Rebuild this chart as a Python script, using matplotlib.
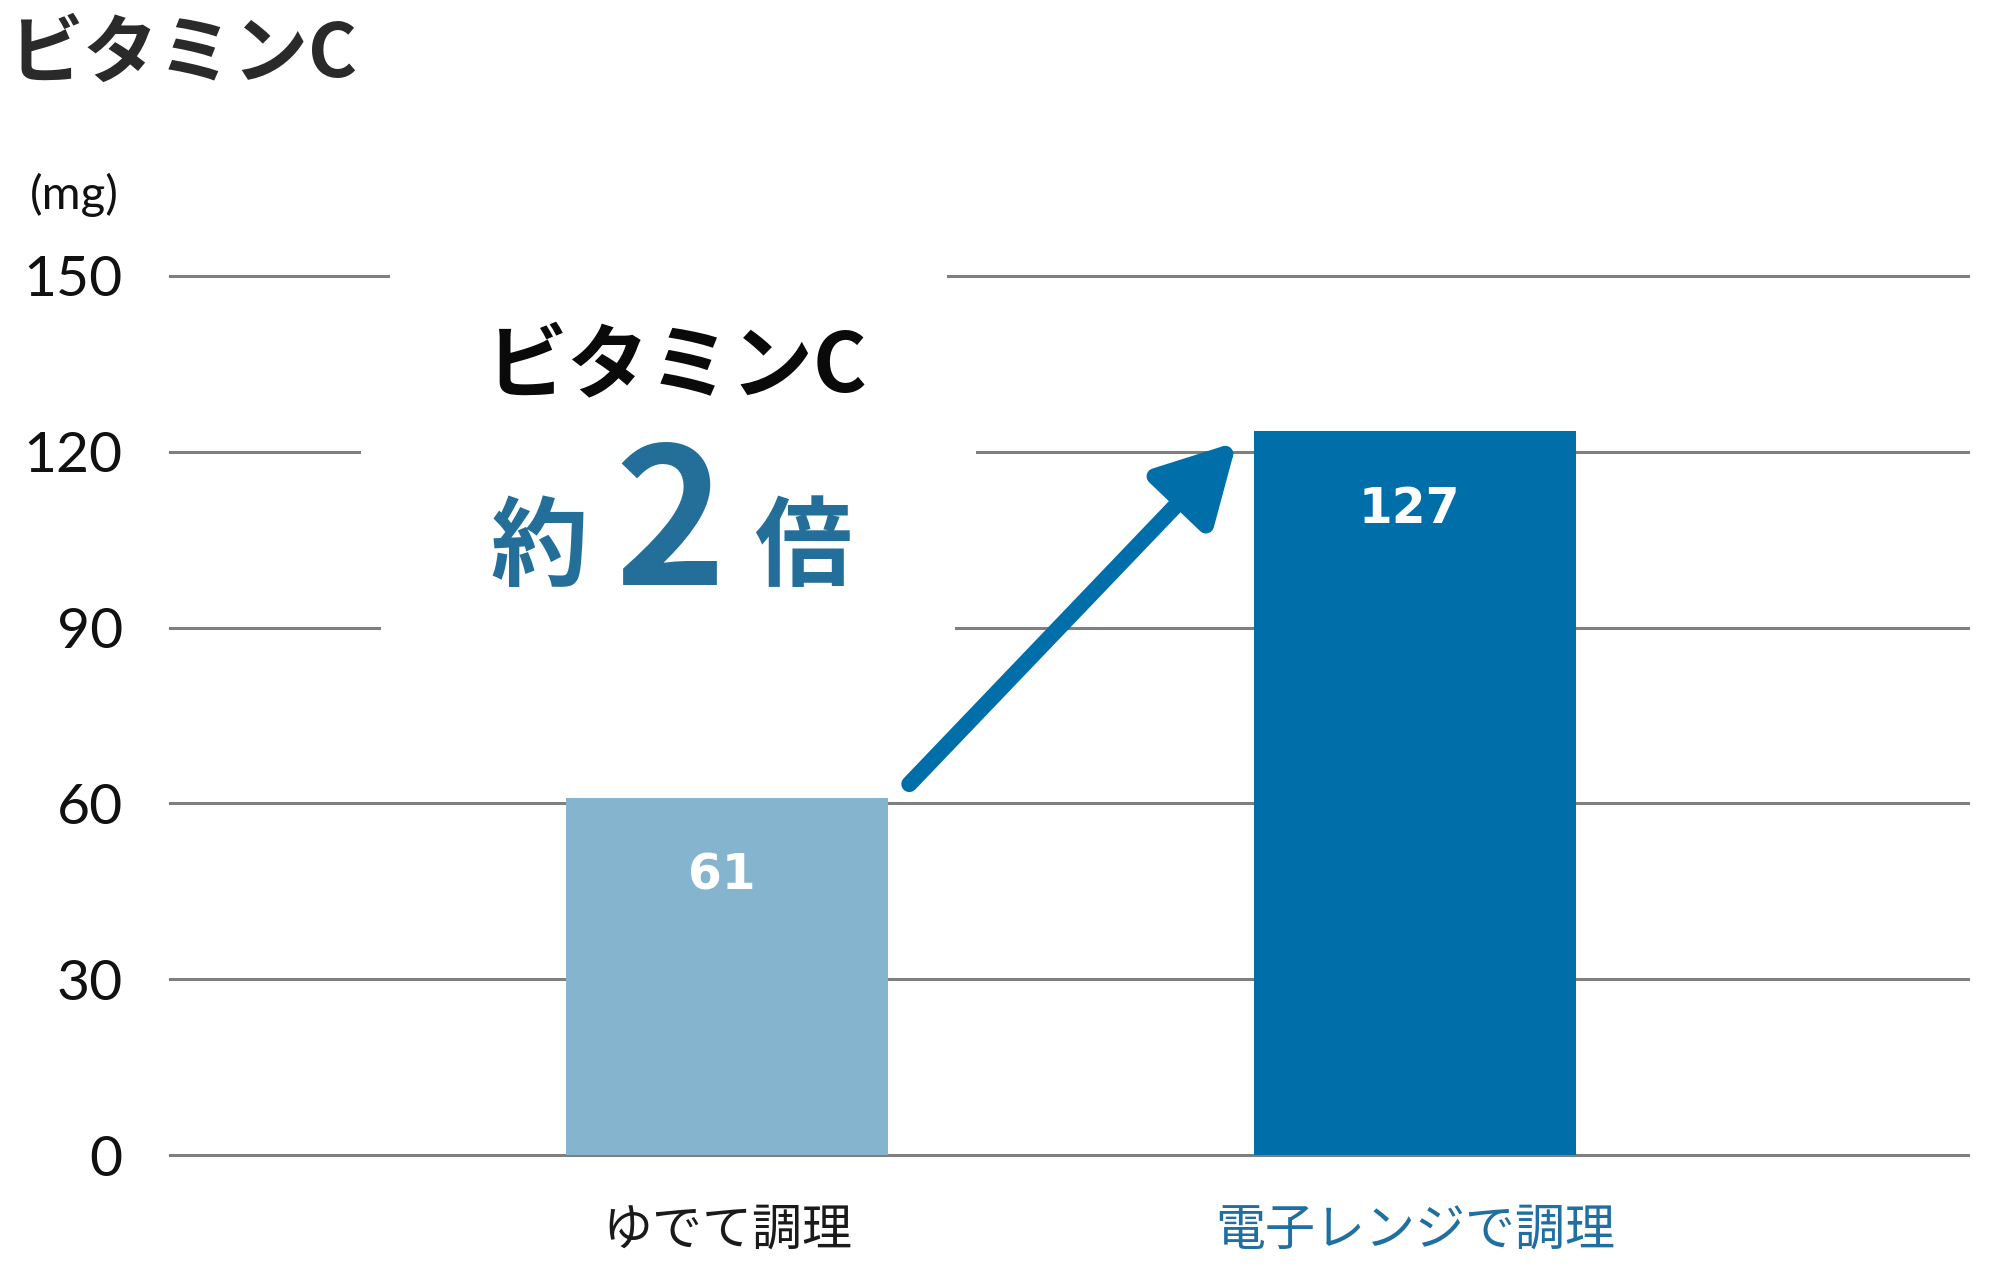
import matplotlib
matplotlib.use("Agg")
import matplotlib.pyplot as plt
import matplotlib.transforms as mtransforms
from matplotlib.patches import Rectangle

plt.rcParams['font.family'] = ['Noto Sans CJK JP', 'DejaVu Sans']

# ---- data ----
title = "ビタミンC"
unit_label = "(mg)"
categories = ["ゆでて調理", "電子レンジで調理"]
bar_heights = [61, 123.5]          # bar tops as drawn in the picture
value_labels = ["61", "127"]       # printed values
y_ticks = [0, 30, 60, 90, 120, 150]
bar_colors = ["#85b4ce", "#006ea8"]
cat_colors = ["#1a1a1a", "#1f6fa0"]
callout_top = "ビタミンC"
callout_parts = ["約", "2", "倍"]

W, H = 2000, 1277
DPI = 200
fig = plt.figure(figsize=(W / DPI, H / DPI), dpi=DPI)
ax = fig.add_axes([170 / W, 1 - 1155 / H, (1968 - 170) / W, (1155 - 276) / H])

x = list(range(len(categories)))
bw = 0.468
ax.bar(x, bar_heights, width=bw, color=bar_colors, zorder=3)
ax.set_xlim(-0.8096, 1.8038)
ax.set_ylim(0, 150)

# gridlines
for t in y_ticks:
    ax.axhline(t, color="#7f7f7f", lw=1.1, zorder=1, clip_on=False)

# white gaps behind the callout text (pixel x extents per gridline)
gaps = {150: (390, 947), 120: (361, 976), 90: (381, 955)}
blend = mtransforms.blended_transform_factory(ax.transAxes, ax.transData)
for t, (g0, g1) in gaps.items():
    fx0 = (g0 - 170) / (1968 - 170)
    fx1 = (g1 - 170) / (1968 - 170)
    ax.add_patch(Rectangle((fx0, t - 1.5), fx1 - fx0, 3.0, transform=blend,
                           facecolor="white", edgecolor="none", zorder=2, clip_on=False))

for s in ax.spines.values():
    s.set_visible(False)

ax.set_yticks(y_ticks)
ax.set_yticklabels([str(t) for t in y_ticks], fontsize=20.5,
                   family=['Lato', 'DejaVu Sans'], fontweight='normal', color="#111111")
ax.tick_params(axis='y', length=0, pad=17)
ax.set_xticks(x)
ax.set_xticklabels(categories, fontsize=18)
for lab, c in zip(ax.get_xticklabels(), cat_colors):
    lab.set_color(c)
ax.tick_params(axis='x', length=0, pad=18)

# value labels inside bars
for xi, h, lab in zip(x, bar_heights, value_labels):
    ax.annotate(lab, xy=(xi, h), xytext=(-2, -28), textcoords="offset points",
                ha="center", va="center", color="white", fontsize=17.5,
                family=['DejaVu Sans'], fontweight="bold", zorder=5)

# arrow from bar 1 to bar 2
tail = (x[0] + bw / 2 + 0.031, bar_heights[0] + 2.3)
tip = (x[1] - bw / 2 - 0.025, bar_heights[1] - 1.8)
ax.annotate("", xy=tip, xytext=tail,
            arrowprops=dict(arrowstyle="-|>,head_length=23.4,head_width=12.8",
                            mutation_scale=1, lw=5.8, color="#006ea8",
                            shrinkA=0, shrinkB=0), zorder=4)

# title and unit
fig.text(8 / W, 1 - 55 / H, title, ha="left", va="center", fontsize=27,
         fontweight="bold", color="#2a2a2a")
fig.text(30 / W, 1 - 195 / H, unit_label, ha="left", va="center", fontsize=17,
         family=['Lato', 'DejaVu Sans'], fontweight='normal', color="#111111")

# callout
fig.text(677 / W, 1 - 368 / H, callout_top, ha="center", va="center",
         fontsize=29.5, fontweight="bold", color="#0a0a0a")
blue = "#236f99"
fig.text(539 / W, 1 - 578 / H, callout_parts[0], ha="center", va="baseline",
         fontsize=35, fontweight="bold", color=blue)
fig.text(670 / W, 1 - 585 / H, callout_parts[1], ha="center", va="baseline",
         fontsize=68, fontweight="bold", color=blue)
fig.text(803 / W, 1 - 578 / H, callout_parts[2], ha="center", va="baseline",
         fontsize=35, fontweight="bold", color=blue)

fig.savefig("out.png", dpi=DPI, facecolor="white")
